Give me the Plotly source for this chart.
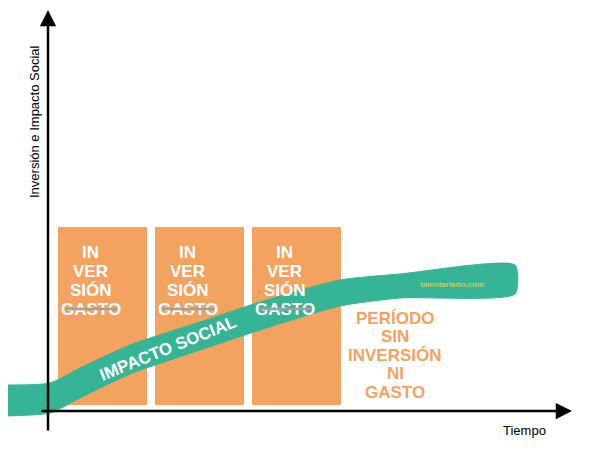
import plotly.graph_objects as go

# pixel-like coordinate system (y grows downward)
bar_x = [102.5, 199.5, 296.5]
bar_top = [227, 227, 227]
bar_height = [178, 178, 178]
bar_lines = ["IN", "VER", "SIÓN", "GASTO"]

band_x = [3, 50, 80, 130, 200, 260, 340, 400, 515]
band_upper = [385, 383, 368, 345, 322, 302, 280, 274, 265]
band_lower = [416, 413, 398, 374, 350, 330, 306, 298, 294]

period_lines = ["PERÍODO", "SIN", "INVERSIÓN", "NI", "GASTO"]

ORANGE = "#F4A25F"
GREEN = "#35B595"
FONT = "Liberation Sans"
OFF = 8  # page body margin

fig = go.Figure()
fig.add_trace(go.Bar(x=bar_x, y=bar_height, base=bar_top, width=89,
                     marker=dict(color=ORANGE, line_width=0)))
fig.add_trace(go.Scatter(x=band_x + band_x[::-1], y=band_upper + band_lower[::-1],
                         fill="toself", fillcolor=GREEN, mode="lines",
                         line=dict(color=GREEN, width=1, shape="spline", smoothing=0.6)))

for cx in bar_x:
    for i, t in enumerate(bar_lines):
        fig.add_annotation(x=cx - 12, y=252 + i * 19, text="<b>%s</b>" % t, showarrow=False,
                           font=dict(family=FONT, size=17, color="white"))
    # strikethrough over GASTO
    fig.add_annotation(x=cx + 15, y=309, ax=cx - 39, ay=309, xref="x", yref="y",
                       axref="x", ayref="y", showarrow=True, arrowhead=0, arrowwidth=2.5,
                       arrowcolor="#a0a0a0", text="")

for i, t in enumerate(period_lines):
    fig.add_annotation(x=395, y=318 + i * 18.5, text="<b>%s</b>" % t, showarrow=False,
                       font=dict(family=FONT, size=17, color=ORANGE))

fig.add_annotation(x=168, y=348, text="<b>IMPACTO SOCIAL</b>", textangle=-22, showarrow=False,
                   font=dict(family=FONT, size=17, color="white"))
fig.add_annotation(x=452, y=284, text="<b>talentariado.com</b>", showarrow=False,
                   font=dict(family=FONT, size=8, color="#C4C96A"))

# axes with arrows
fig.add_annotation(x=48, y=10, ax=48, ay=432, xref="x", yref="y", axref="x", ayref="y",
                   showarrow=True, arrowhead=2, arrowsize=1.3, arrowwidth=2.5, arrowcolor="black", text="")
fig.add_annotation(x=572, y=411, ax=40, ay=411, xref="x", yref="y", axref="x", ayref="y",
                   showarrow=True, arrowhead=2, arrowsize=1.3, arrowwidth=2.5, arrowcolor="black", text="")
fig.add_annotation(x=34, y=122, text="Inversión e Impacto Social", textangle=-90, showarrow=False,
                   font=dict(family=FONT, size=13, color="black"))
fig.add_annotation(x=524, y=430, text="Tiempo", showarrow=False,
                   font=dict(family=FONT, size=13, color="black"))

fig.update_xaxes(range=[OFF, 593 + OFF], visible=False)
fig.update_yaxes(range=[454 + OFF, OFF], visible=False)
fig.update_layout(width=593, height=454, margin=dict(l=0, r=0, t=0, b=0),
                  plot_bgcolor="white", paper_bgcolor="white", showlegend=False)
fig.write_html("out.html")
